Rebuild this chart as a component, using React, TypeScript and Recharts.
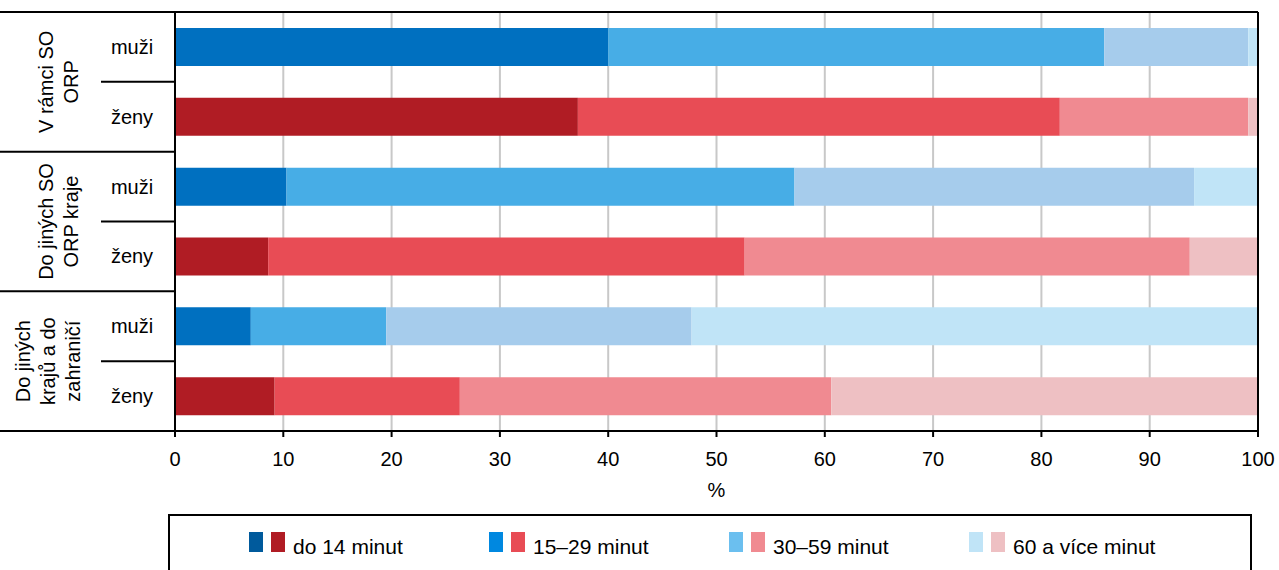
import { Bar, BarChart, CartesianGrid, Cell, ReferenceLine, XAxis, YAxis } from "recharts";

// travel time to work, share in %
const groupLines = [
  ["V rámci SO", "ORP"],
  ["Do jiných SO", "ORP kraje"],
  ["Do jiných", "krajů a do", "zahraničí"],
];
const sexes = ["muži", "ženy"];

const do14 = [40.0, 37.2, 10.3, 8.6, 7.0, 9.2];
const min15to29 = [45.8, 44.5, 46.9, 44.0, 12.5, 17.1];
const min30to59 = [13.3, 17.4, 36.9, 41.1, 28.2, 34.3];
const min60plus = [0.9, 0.9, 5.9, 6.3, 52.3, 39.4];

const xTicks = [0, 10, 20, 30, 40, 50, 60, 70, 80, 90, 100];

const seriesNames = ["do 14 minut", "15–29 minut", "30–59 minut", "60 a více minut"];
const seriesKeys = ["s1", "s2", "s3", "s4"];

const blues = ["#0070c0", "#47ade6", "#a6ccec", "#c0e4f7"];
const reds = ["#b01c24", "#e84c55", "#f08a91", "#eec0c3"];
const legendBlues = ["#005a9c", "#0088e0", "#6bbfef", "#c0e4f7"];

const rows = do14.map((v, i) => ({
  id: `r${i}`,
  group: Math.floor(i / 2),
  sex: sexes[i % 2],
  s1: v,
  s2: min15to29[i],
  s3: min30to59[i],
  s4: min60plus[i],
}));

const FONT = "'Liberation Sans', Arial, sans-serif";

function RowTick(props: any) {
  const { payload } = props;
  const i = payload.index;
  const cy = payload.coordinate;
  const half = payload.offset || 34.9;
  const row = rows[i];
  const parts: any[] = [];

  parts.push(
    <text key="sex" x={132} y={cy} textAnchor="middle" dominantBaseline="central" fontSize={20} fill="#000">
      {row.sex}
    </text>
  );

  if (i % 2 === 0) {
    const top = cy - half;
    parts.push(
      <line key="top" x1={0} x2={i === 0 ? 1258 : 175} y1={top} y2={top} stroke="#000" strokeWidth={2} />
    );
    parts.push(
      <line key="mid" x1={101} x2={175} y1={cy + half} y2={cy + half} stroke="#000" strokeWidth={2} />
    );
    const lines = groupLines[row.group];
    const gy = cy + half;
    const cx = lines.length === 3 ? 48 : 58;
    const gap = 25;
    lines.forEach((t, j) => {
      const lx = cx + (j - (lines.length - 1) / 2) * gap;
      parts.push(
        <text
          key={`g${j}`}
          transform={`translate(${lx} ${gy}) rotate(-90)`}
          x={0}
          y={0}
          textAnchor="middle"
          dominantBaseline="central"
          fontSize={20}
          fill="#000"
        >
          {t}
        </text>
      );
    });
  } else if (i === rows.length - 1) {
    parts.push(
      <line key="bottom" x1={0} x2={175} y1={cy + half} y2={cy + half} stroke="#000" strokeWidth={2} />
    );
  }

  return <g>{parts}</g>;
}

export default function App() {
  return (
    <div
      style={{
        position: "absolute",
        left: 0,
        top: 0,
        width: 1279,
        height: 570,
        overflow: "hidden",
        background: "#fff",
        fontFamily: FONT,
      }}
    >
      <BarChart
        width={1279}
        height={500}
        data={rows}
        layout="vertical"
        margin={{ top: 12, right: 21, bottom: 0, left: 0 }}
        style={{ fontFamily: FONT }}
      >
        <CartesianGrid horizontal={false} stroke="#c8c8c8" strokeWidth={2} />
        <XAxis
          type="number"
          domain={[0, 100]}
          allowDataOverflow
          ticks={xTicks}
          interval={0}
          height={69}
          tickSize={6}
          tickMargin={15}
          tick={{ fill: "#000", fontSize: 20 }}
          axisLine={{ stroke: "#000", strokeWidth: 2 }}
          tickLine={{ stroke: "#000", strokeWidth: 2 }}
          label={{ value: "%", position: "insideBottom", offset: 3, fill: "#000", fontSize: 20 }}
        />
        <YAxis
          type="category"
          dataKey="id"
          width={175}
          interval={0}
          tickLine={false}
          axisLine={{ stroke: "#000", strokeWidth: 2 }}
          tick={<RowTick />}
        />
        {seriesKeys.map((k, si) => (
          <Bar key={k} dataKey={k} name={seriesNames[si]} stackId="a" barSize={38} isAnimationActive={false}>
            {rows.map((r, ri) => (
              <Cell key={ri} fill={r.sex === "muži" ? blues[si] : reds[si]} />
            ))}
          </Bar>
        ))}
        <ReferenceLine x={100} stroke="#000" strokeWidth={2} />
      </BarChart>

      <div
        style={{
          position: "absolute",
          left: 168,
          top: 514,
          width: 1084,
          height: 80,
          border: "2px solid #000",
          boxSizing: "border-box",
        }}
      >
        {seriesNames.map((name, i) => {
          const left = 79 + i * 240;
          return (
            <div key={name}>
              <div
                style={{ position: "absolute", left, top: 16, width: 14, height: 20, background: legendBlues[i] }}
              />
              <div
                style={{ position: "absolute", left: left + 22, top: 16, width: 14, height: 20, background: reds[i] }}
              />
              <div
                style={{
                  position: "absolute",
                  left: left + 44,
                  top: 20,
                  fontSize: 21,
                  lineHeight: "21px",
                  color: "#000",
                  whiteSpace: "nowrap",
                }}
              >
                {name}
              </div>
            </div>
          );
        })}
      </div>
    </div>
  );
}
